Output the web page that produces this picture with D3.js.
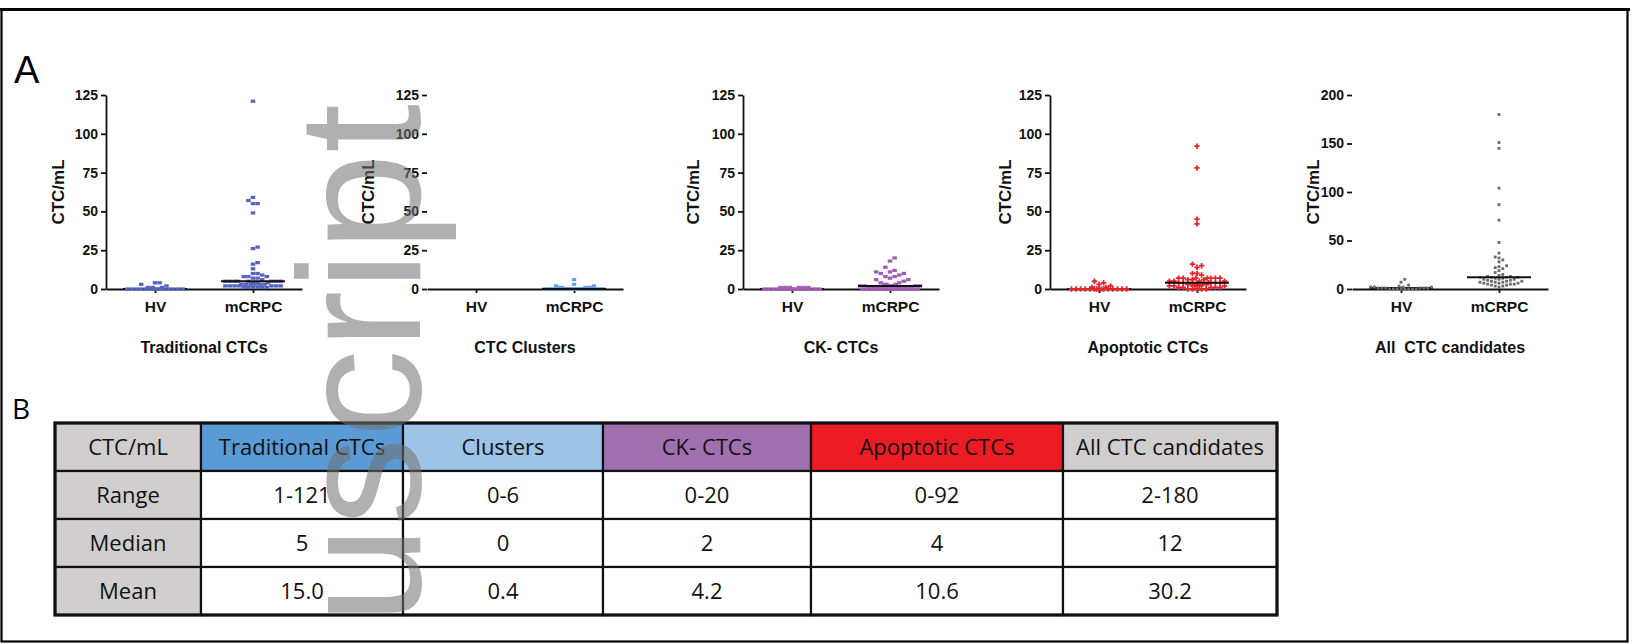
<!DOCTYPE html>
<html><head><meta charset="utf-8">
<script src="https://cdn.jsdelivr.net/npm/d3@7"></script>
<style>body{margin:0;background:#fff;} svg{display:block;}</style>
</head><body>
<svg id="chart" width="1632" height="644"></svg>
<script>
// ---------- DATA ----------
const panelTitles = ["Traditional CTCs", "CTC Clusters", "CK- CTCs", "Apoptotic CTCs", "All  CTC candidates"];
const groups = ["HV", "mCRPC"];
const yMaxes = [125, 125, 125, 125, 200];
const ticks125 = [0, 25, 50, 75, 100, 125];
const ticks200 = [0, 50, 100, 150, 200];
const dotColors = ["#5565bd", "#6b9ddb", "#a45db4", "#e8232b", "#6c6c6c"];

const hvTraditional = [3, 2, 1, 4, 4, 1, 1, 0, 0, 0, 0, 0, 0, 0, 0, 0, 0, 0, 0, 0, 0];
const mcrpcTraditional = [121, 59, 57, 55, 55, 49, 27, 26, 17, 16, 13, 10, 10, 9, 8, 8, 8, 7, 7, 6,
  5, 5, 5, 5, 5, 5, 5, 5, 4, 4, 4, 3, 3, 3, 3, 3, 3, 2, 2, 2, 2, 2, 2, 2, 1, 1, 1, 1, 1, 1];

const hvClusters = [];
const mcrpcClusters = [6, 3, 2, 2, 1, 1, 1, 1, 1, 1, 1, 0, 0, 0, 0, 0, 0, 0, 0, 0, 0, 0, 0, 0, 0, 0, 0,
  0, 0, 0, 0, 0, 0, 0, 0, 0, 0, 0, 0, 0, 0, 0, 0, 0, 0, 0, 0, 0, 0, 0];

const hvCK = [1, 1, 1, 1, 1, 1, 0, 0, 0, 0, 0, 0, 0, 0, 0, 0, 0, 0, 0, 0];
const mcrpcCK = [20, 18, 14, 12, 11, 11, 10, 10, 9, 8, 8, 7, 6, 6, 5, 4, 4, 3, 3, 3,
  2, 2, 2, 2, 2, 2, 2, 1, 1, 1, 1, 1, 1, 1, 1, 1, 0, 0, 0, 0, 0, 0, 0, 0, 0, 0, 0, 0, 0, 0];

const hvApoptotic = [5, 4, 3, 2, 1, 1, 0, 0, 0, 0, 0, 0, 0, 0, 0, 0, 0, 0, 0, 0, 0];
const mcrpcApoptotic = [92, 78, 45, 42, 16, 15, 14, 10, 10, 9, 7, 7, 7, 7, 7, 7, 7, 6, 6, 6,
  5, 5, 5, 5, 4, 4, 4, 4, 4, 4, 3, 3, 3, 3, 3, 2, 2, 2, 2, 2, 1, 1, 1, 1, 1, 0, 0, 0, 0, 0];

const hvAll = [10, 7, 4, 3, 2, 2, 2, 2, 1, 1, 1, 1, 1, 1, 0, 0, 0, 0, 0, 0, 0, 0];
const mcrpcAll = [180, 151, 145, 104, 87, 71, 48, 37, 33, 32, 30, 28, 24, 23, 22, 21, 19, 17, 15, 14,
  13, 13, 12, 12, 12, 12, 11, 11, 10, 10, 10, 9, 9, 8, 8, 8, 7, 7, 7, 6, 6, 6, 5, 5, 5, 4, 4, 3, 3, 2];

// table
const tableHeader = ["CTC/mL", "Traditional CTCs", "Clusters", "CK- CTCs", "Apoptotic CTCs", "All CTC candidates"];
const headerColors = ["#d0cece", "#5b9bd5", "#9dc3e6", "#a070ae", "#ed1c24", "#d0cece"];
const rowLabels = ["Range", "Median", "Mean"];
const rangeRow = ["1-121", "0-6", "0-20", "0-92", "2-180"];
const medianRow = ["5", "0", "2", "4", "12"];
const meanRow = ["15.0", "0.4", "4.2", "10.6", "30.2"];

const hvSets = [hvTraditional, hvClusters, hvCK, hvApoptotic, hvAll];
const mcSets = [mcrpcTraditional, mcrpcClusters, mcrpcCK, mcrpcApoptotic, mcrpcAll];

// ---------- LAYOUT ----------
const svg = d3.select("#chart");
svg.append("rect").attr("width", 1632).attr("height", 644).attr("fill", "#fff");

const axisXs = [106, 427, 743, 1050, 1352];
const yTitleOff = [48, 59, 50, 45, 39];
const noYLine = [false, true, false, false, true];
const symbols = [d3.symbolSquare, d3.symbolSquare, d3.symbolSquare, d3.symbolCross, d3.symbolSquare];
const symSizes = [13, 12, 13, 16, 8];
const symScale = [[1.25, 0.9], [1.25, 0.9], [1.25, 0.9], [1, 1], [1, 1]];
const spacing = [4.6, 4.2, 4.6, 4.6, 3.8];
const rowH = [4, 3.2, 5, 4, 3.5];
const plotW = 196, yTop = 95, yBase = 289;
const FONT = "'Liberation Sans', Arial, sans-serif";

// frame
svg.append("rect").attr("x", 1.5).attr("y", 9.5).attr("width", 1626).attr("height", 632)
  .attr("fill", "none").attr("stroke", "#000").attr("stroke-width", 2.2);
svg.append("line").attr("x1", 0).attr("x2", 1630).attr("y1", 9.5).attr("y2", 9.5)
  .attr("stroke", "#000").attr("stroke-width", 3);

svg.append("text").attr("x", 14).attr("y", 83).text("A")
  .style("font-family", FONT).style("font-size", "38px").attr("fill", "#000");

// beeswarm layout: points at their true y, spread sideways to avoid overlap,
// within maxW; overflowing points go to the least crowded spot.
function swarm(values, yScale, maxW, s, h) {
  const half = maxW / 2;
  const q = s / 4;
  const K = Math.floor(half / q);
  const cands = [];
  for (let k = -K; k <= K; k++) cands.push(k * q);
  cands.sort((a, b) => Math.abs(a) - Math.abs(b) || b - a);
  const coarse = cands.filter(c => Math.round(c / q) % 4 === 0);
  const placed = [];
  [...values].sort((a, b) => a - b).forEach(v => {
    const py = yScale(v);
    const near = placed.filter(p => Math.abs(p.y - py) < h);
    let best = null;
    for (const c of coarse) {
      if (near.every(p => Math.abs(p.x - c) >= s * 0.95)) { best = c; break; }
    }
    if (best === null) {
      let bestScore = -1;
      for (const c of cands) {
        const sc = d3.min(near, p => Math.abs(p.x - c));
        if (sc > bestScore + 1e-6) { bestScore = sc; best = c; }
      }
    }
    placed.push({ v, x: best, y: py });
  });
  return placed;
}

panelTitles.forEach((title, i) => {
  const y = d3.scaleLinear().domain([0, yMaxes[i]]).range([yBase, yTop]);
  const x = d3.scalePoint().domain(groups).range([0, plotW]).padding(0.5);
  const g = svg.append("g").attr("transform", `translate(${axisXs[i]},0)`);

  const ya = g.append("g").call(d3.axisLeft(y).tickValues(yMaxes[i] === 200 ? ticks200 : ticks125)
    .tickSize(5).tickSizeOuter(0).tickPadding(3));
  ya.selectAll("text").style("font-family", FONT).style("font-weight", "bold").style("font-size", "14px").attr("fill", "#111");
  ya.selectAll("line").attr("stroke", "#111").attr("stroke-width", 1.8);
  ya.select(".domain").attr("stroke", "#111").attr("stroke-width", 1.8);
  if (noYLine[i]) ya.select(".domain").remove();

  const xa = g.append("g").attr("transform", `translate(0,${yBase})`)
    .call(d3.axisBottom(x).tickSize(4).tickSizeOuter(0).tickPadding(8));
  xa.selectAll("text").style("font-family", FONT).style("font-weight", "bold").style("font-size", "15.5px").attr("fill", "#111");
  xa.selectAll("line").attr("stroke", "#111").attr("stroke-width", 1.8);
  xa.select(".domain").attr("stroke", "#111").attr("stroke-width", 1.8);

  const sets = [hvSets[i], mcSets[i]];
  sets.forEach((vals, gi) => {
    if (!vals.length) return;
    const cx = x(groups[gi]);
    const med = gi === 1 ? +medianRow[i] : d3.median(vals);
    const medLine = () => g.append("line").attr("x1", cx - 32).attr("x2", cx + 32)
      .attr("y1", y(med)).attr("y2", y(med))
      .attr("stroke", "#111").attr("stroke-width", 2);
    if (gi === 0) medLine();
    const pts = swarm(vals, y, 62, spacing[i], rowH[i]);
    g.selectAll(null).data(pts).enter().append("path")
      .attr("d", d3.symbol().type(symbols[i]).size(symSizes[i]))
      .attr("transform", d => `translate(${cx + d.x},${d.y}) scale(${symScale[i][0]},${symScale[i][1]})`)
      .attr("fill", dotColors[i]);
    if (gi === 1) medLine();
  });

  g.append("text").attr("transform", `translate(${-yTitleOff[i]},192) rotate(-90)`)
    .attr("text-anchor", "middle").attr("dy", "0.35em").text("CTC/mL")
    .style("font-family", FONT).style("font-weight", "bold").style("font-size", "17px").attr("fill", "#111");

  g.append("text").attr("x", plotW / 2).attr("y", 353).attr("text-anchor", "middle").text(title)
    .style("white-space", "pre")
    .style("font-family", FONT).style("font-weight", "bold").style("font-size", "16px").attr("fill", "#111");
});

// ---------- TABLE ----------
const TFONT = "'Open Sans', 'Noto Sans', sans-serif";
svg.append("text").attr("x", 12).attr("y", 419).text("B")
  .style("font-family", TFONT).style("font-size", "28px").attr("fill", "#000");

const colX = [55, 201, 403, 603, 811, 1063, 1277];
const rowY = [423, 471, 519, 567, 615];
const bodyRows = [rangeRow, medianRow, meanRow];
const cells = [];
tableHeader.forEach((h, c) => cells.push({ r: 0, c, text: h, fill: headerColors[c] }));
bodyRows.forEach((row, r) => {
  cells.push({ r: r + 1, c: 0, text: rowLabels[r], fill: "#d0cece" });
  row.forEach((t, c) => cells.push({ r: r + 1, c: c + 1, text: t, fill: "#fff" }));
});
const tg = svg.append("g");
tg.selectAll("rect.cell").data(cells).enter().append("rect").attr("class", "cell")
  .attr("x", d => colX[d.c]).attr("y", d => rowY[d.r])
  .attr("width", d => colX[d.c + 1] - colX[d.c]).attr("height", d => rowY[d.r + 1] - rowY[d.r])
  .attr("fill", d => d.fill).attr("stroke", "#111").attr("stroke-width", 2.2);
tg.selectAll("text.cell").data(cells).enter().append("text").attr("class", "cell")
  .attr("x", d => (colX[d.c] + colX[d.c + 1]) / 2).attr("y", d => (rowY[d.r] + rowY[d.r + 1]) / 2)
  .attr("dy", "0.36em").attr("text-anchor", "middle").text(d => d.text)
  .style("font-family", TFONT).style("font-size", "22px").attr("fill", "#111");
tg.append("rect").attr("x", colX[0]).attr("y", rowY[0]).attr("width", colX[6] - colX[0]).attr("height", rowY[4] - rowY[0])
  .attr("fill", "none").attr("stroke", "#111").attr("stroke-width", 3.2);

// ---------- WATERMARK ----------
svg.append("text").attr("transform", "translate(420,624) rotate(-90)")
  .attr("textLength", 520).attr("lengthAdjust", "spacingAndGlyphs")
  .text("uscript").style("font-family", FONT).style("font-size", "175px")
  .attr("fill", "#707070").attr("opacity", 0.55);
</script>
</body></html>
